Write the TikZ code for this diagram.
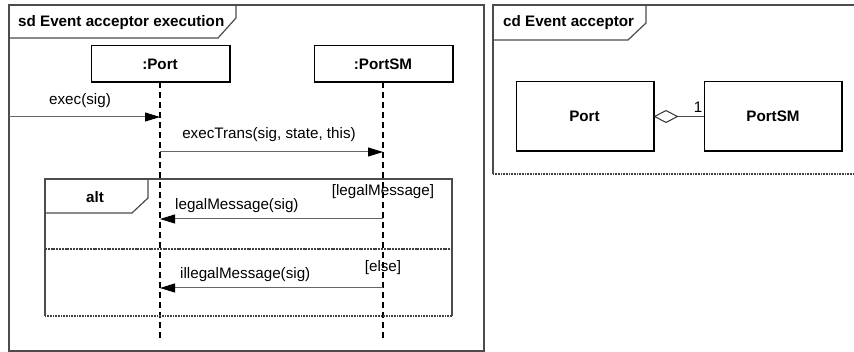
\documentclass[tikz,border=0pt]{standalone}
\usepackage{fontspec}
\setmainfont{Liberation Sans}
\usetikzlibrary{arrows.meta}
\newcommand\diagfont{\fontsize{15.2}{18}\selectfont}
\tikzset{
  framedraw/.style={draw=black!70, line width=1.2pt},
  framedots/.style={draw=black!75, line width=2pt, dash pattern=on 1pt off 0.6pt},
  objbox/.style={draw=black, line width=1pt, minimum width=138pt, minimum height=36pt, font=\diagfont\bfseries, inner sep=0pt},
  classbox/.style={draw=black, line width=1pt, minimum width=137pt, minimum height=69pt, font=\diagfont\bfseries, inner sep=0pt},
  lifeline/.style={draw=black, line width=2pt, dash pattern=on 6pt off 4pt},
  msg/.style={draw=black!60, line width=1pt, -{Triangle[length=15pt,width=9pt,color=black]}},
  lbl/.style={inner sep=0pt, font=\diagfont},
  ttl/.style={inner sep=0pt, font=\diagfont\bfseries},
}
\begin{document}
\begin{tikzpicture}[x=1pt, y=-1pt]
\useasboundingbox[fill=white] (0,0) rectangle (854,352);

% ---------- sequence diagram frame ----------
\draw[framedraw] (9,5) rectangle (484,351);
\draw[framedraw] (9,38) -- (218,38) -- (236,18) -- (236,5);
\node[ttl, anchor=west] (sdtitle) at (18,23) {sd Event acceptor execution};

% lifeline heads
\node[objbox] (port) at (160,64) {:Port};
\node[objbox] (portsm) at (383,64) {:PortSM};
\foreach \n in {port,portsm}
  \draw[line width=2pt] (\n.north east) -- (\n.south east) -- (\n.south west);

% lifelines
\coordinate (portEnd) at (160,340);
\coordinate (portsmEnd) at (383,340);
\draw[lifeline] (port.south) -- (portEnd);
\draw[lifeline] (portsm.south) -- (portsmEnd);

% message anchor points on the lifelines
\coordinate (gate) at (9,117);
\coordinate (pA) at (160,117);
\coordinate (pB) at (160,152);
\coordinate (sB) at (383,152);
\coordinate (pC) at (160,219);
\coordinate (sC) at (383,219);
\coordinate (pD) at (160,288);
\coordinate (sD) at (383,288);

% messages
\draw[msg] (gate) -- (pA);
\node[lbl] (lexec) at (80,101) {exec(sig)};
\draw[msg] (pB) -- (sB);
\node[lbl] (ltrans) at (269,135) {execTrans(sig, state, this)};

% alt combined fragment
\draw[framedraw] (45,316) -- (45,179) -- (452,179) -- (452,316);
\draw[framedots] (45,316) -- (452,316);
\draw[framedraw] (45,213) -- (132,213) -- (148,198) -- (148,179);
\node[ttl] (alt) at (95,197) {alt};
\draw[draw=black!75, line width=1.2pt, dash pattern=on 2pt off 0.8pt] (45,249) -- (452,249);

\node[lbl] (guard1) at (383,192) {[legalMessage]};
\draw[msg] (sC) -- (pC);
\node[lbl, anchor=west] (llegal) at (175,206) {legalMessage(sig)};

\node[lbl] (guard2) at (383,268) {[else]};
\draw[msg] (sD) -- (pD);
\node[lbl, anchor=west] (lillegal) at (180,275) {illegalMessage(sig)};

% ---------- class diagram frame ----------
\draw[framedraw] (860,5) -- (493,5) -- (493,174);
\draw[framedots] (493,174) -- (860,174);
\draw[framedraw] (493,40) -- (628,40) -- (646,23) -- (646,5);
\node[ttl, anchor=west] (cdtitle) at (503,23) {cd Event acceptor};

\node[classbox] (cport) at (584.5,116.5) {Port};
\node[classbox] (cportsm) at (773,116.5) {PortSM};
\foreach \n in {cport,cportsm}
  \draw[line width=2pt] (\n.north east) -- (\n.south east) -- (\n.south west);

\draw[draw=black!70, line width=1pt, -{Diamond[open, length=25pt, width=13pt, color=black!80]}] (cportsm.west) -- (cport.east);
\node[lbl] (mult) at (698,107) {1};
\end{tikzpicture}
\end{document}
